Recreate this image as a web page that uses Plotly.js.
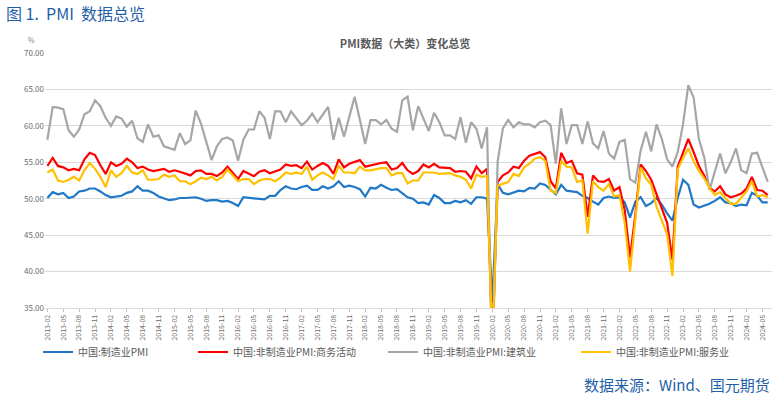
<!DOCTYPE html>
<html><head><meta charset="utf-8">
<script src="https://cdn.plot.ly/plotly-3.0.1.min.js"></script>
<style>html,body{margin:0;padding:0;background:#fff;}#chart{width:783px;height:398px;}</style>
</head><body><div id="chart"></div>
<script>
// Months 2013-02 .. 2024-06
const startYear = 2013, startMonth = 2, nMonths = 137;
const months = [];
for (let k = 0; k < nMonths; k++) {
  const m = startMonth - 1 + k;
  const y = startYear + Math.floor(m / 12);
  const mm = (m % 12) + 1;
  months.push(y + '-' + (mm < 10 ? '0' + mm : mm));
}
const tickLabels = months.filter((d, k) => k % 3 === 0);

const manufacturing = [
  50.1,50.9,50.6,50.8,50.1,50.3,51.0,51.1,51.4,51.4,51.0,
  50.5,50.2,50.3,50.4,50.8,51.0,51.7,51.1,51.1,50.8,50.3,50.1,
  49.8,49.9,50.1,50.1,50.2,50.2,50.0,49.7,49.8,49.8,49.6,49.7,
  49.4,49.0,50.2,50.1,50.1,50.0,49.9,50.4,50.4,51.2,51.7,51.4,
  51.3,51.6,51.8,51.2,51.2,51.7,51.4,51.7,52.4,51.6,51.8,51.6,
  51.3,50.3,51.5,51.4,51.9,51.5,51.2,51.3,50.8,50.2,50.0,49.4,
  49.5,49.2,50.5,50.1,49.4,49.4,49.7,49.5,49.8,49.3,50.2,50.2,
  50.0,35.7,52.0,50.8,50.6,50.9,51.1,51.0,51.5,51.4,52.1,51.9,
  51.3,50.6,51.9,51.1,51.0,50.9,50.4,50.1,49.6,49.2,50.1,50.3,
  50.1,50.2,49.5,47.4,49.6,50.2,49.0,49.4,50.1,49.2,48.0,47.0,
  50.1,52.6,51.9,49.2,48.8,49.0,49.3,49.7,50.2,49.5,49.4,49.0,
  49.2,49.1,50.8,50.4,49.5,49.5
];
const nonManufacturing = [
  54.5,55.6,54.5,54.3,53.9,54.1,53.9,55.4,56.3,56.0,54.6,
  53.4,55.0,54.5,54.8,55.5,55.0,54.2,54.4,54.0,53.8,53.9,54.1,
  53.7,53.9,53.7,53.4,53.2,53.8,53.9,53.4,53.4,53.1,53.6,54.4,
  53.5,52.7,53.8,53.5,53.1,53.7,53.9,53.5,53.7,54.0,54.7,54.5,
  54.6,54.2,55.1,54.0,54.5,54.9,54.5,53.4,55.4,54.3,54.8,55.0,
  55.3,54.4,54.6,54.8,54.9,55.0,54.0,54.2,54.9,53.9,53.4,53.8,
  54.7,54.3,54.8,54.3,54.3,54.2,53.7,53.8,53.7,52.8,54.4,53.5,
  54.1,29.6,52.3,53.2,53.6,54.4,54.2,55.2,55.9,56.2,56.4,55.7,
  52.4,51.4,56.3,54.9,55.2,53.5,53.3,47.5,53.2,52.4,52.3,52.7,
  51.1,51.6,48.4,41.9,47.8,54.7,53.8,52.6,50.6,48.7,46.7,41.6,
  54.4,56.3,58.2,56.4,54.5,53.2,51.5,51.0,51.7,50.6,50.2,50.4,
  50.7,51.4,53.0,51.2,51.1,50.5
];
const construction = [
  58.1,62.6,62.5,62.3,59.4,58.5,59.5,61.6,62.0,63.5,62.7,
  61.1,60.0,61.3,61.0,59.9,60.7,58.3,57.8,60.2,58.5,58.7,57.2,
  57.0,56.7,59.0,57.5,58.0,62.1,60.3,57.8,55.3,57.2,58.2,58.4,
  58.0,55.2,58.1,59.5,59.5,62.0,61.1,58.2,62.0,62.0,60.5,62.0,
  61.1,60.1,60.7,61.7,60.5,61.6,62.6,58.1,61.1,58.5,61.3,64.0,
  60.8,57.5,60.8,60.8,60.2,60.8,59.6,59.2,63.5,64.0,59.4,62.7,
  61.0,59.3,61.8,60.5,58.7,58.7,58.2,61.2,57.7,60.5,59.6,56.9,
  59.8,26.6,55.1,59.7,60.8,59.8,60.5,60.2,60.2,59.8,60.5,60.7,
  60.1,54.8,62.4,57.5,60.1,60.1,57.5,60.6,57.6,56.9,59.3,56.2,
  55.5,57.8,58.1,52.7,52.2,56.6,59.2,56.5,60.2,58.2,55.4,54.4,
  56.4,60.2,65.6,63.9,58.2,55.7,51.2,53.8,56.2,53.5,55.0,56.9,
  53.9,53.5,56.2,56.3,54.4,52.3
];
const services = [
  53.6,54.0,52.5,52.3,52.6,53.0,52.5,53.9,54.9,54.1,53.0,
  51.6,53.9,53.0,53.5,54.5,53.6,53.4,53.9,52.6,52.6,52.7,53.3,
  53.0,53.2,52.4,52.4,52.0,52.4,52.9,52.7,53.0,52.5,53.0,54.0,
  53.2,52.4,52.7,52.7,52.0,52.5,52.7,52.7,52.4,52.9,53.6,53.4,
  53.6,53.4,54.4,52.6,53.2,53.6,53.2,52.7,54.5,53.6,53.6,53.5,
  54.4,53.9,53.9,54.1,54.2,54.2,53.2,53.5,53.5,52.1,52.5,52.5,
  53.6,53.6,53.6,53.4,53.5,53.5,53.2,53.0,52.6,51.4,53.3,53.0,
  53.1,30.1,51.8,52.1,52.3,53.4,53.1,54.3,54.8,55.5,55.7,55.2,
  51.1,50.8,55.2,54.4,54.3,52.3,52.5,45.2,52.4,51.6,51.1,52.0,
  50.3,50.5,46.7,40.0,47.1,54.3,52.8,51.9,48.9,47.0,45.1,39.4,
  54.0,55.6,56.9,55.1,53.8,52.8,51.5,50.5,50.9,50.1,49.3,49.3,
  50.1,51.0,52.4,50.3,50.5,50.2
];

const seriesNames = ['中国:制造业PMI','中国:非制造业PMI:商务活动','中国:非制造业PMI:建筑业','中国:非制造业PMI:服务业'];
const seriesData = [manufacturing, nonManufacturing, construction, services];
const seriesColors = ['#1f78c8','#ff0000','#a6a6a6','#ffc000'];
const legendIds = ['legend','legend2','legend3','legend4'];
const legendX = [38, 193, 383, 576];

const traces = seriesData.map((vals, s) => ({
  type: 'scatter', mode: 'lines', x: months, y: vals, name: seriesNames[s],
  line: {color: seriesColors[s], width: 2.2}, legend: legendIds[s], cliponaxis: true
}));

const font = {family: '"Noto Sans CJK SC", "Microsoft YaHei", sans-serif', color: '#595959'};
const layout = {
  width: 783, height: 398,
  margin: {l: 45, r: 11, t: 53, b: 90},
  paper_bgcolor: '#ffffff', plot_bgcolor: '#ffffff',
  font: font,
  showlegend: true,
  title: {text: '<b>PMI数据（大类）变化总览</b>', font: {size: 11, color: '#595959', family: font.family},
          x: 405/783, xref: 'container', xanchor: 'center', y: 1 - 44/398, yref: 'container', yanchor: 'middle'},
  xaxis: {type: 'category', range: [-0.45, 136.8], tickmode: 'array', tickvals: tickLabels, ticktext: tickLabels,
          tickangle: -90, tickfont: {size: 7, color: '#6b6b6b'}, ticks: 'outside', ticklen: 3, tickcolor: '#bfbfbf',
          showgrid: false, showline: true, linecolor: '#d9d9d9', linewidth: 1, zeroline: false, fixedrange: true},
  yaxis: {range: [35, 70], tickmode: 'linear', tick0: 35, dtick: 5, tickformat: '.2f',
          tickfont: {size: 8, color: '#6b6b6b'}, showgrid: true, gridcolor: '#d9d9d9', gridwidth: 1,
          zeroline: false, showline: false, ticks: '', fixedrange: true},
  annotations: [
    {text: '图 1.  PMI  数据总览', xref: 'paper', yref: 'paper', x: (4-45)/727, y: (308-13)/255,
     xanchor: 'left', yanchor: 'middle', showarrow: false, font: {size: 16, color: '#1f5fa8', family: font.family}},
    {text: '%', xref: 'paper', yref: 'paper', x: (31-45)/727, y: (308-40)/255,
     xanchor: 'center', yanchor: 'middle', showarrow: false, font: {size: 7, color: '#7f7f7f'}},
    {text: '数据来源：Wind、国元期货', xref: 'paper', yref: 'paper', x: (772-45)/727, y: (308-384)/255,
     xanchor: 'right', yanchor: 'middle', showarrow: false, font: {size: 15, color: '#1f5fa8', family: font.family}}
  ]
};
legendIds.forEach((id, s) => {
  layout[id] = {orientation: 'h', xref: 'container', yref: 'container', x: legendX[s]/783, y: 1 - 352/398,
    xanchor: 'left', yanchor: 'middle', bgcolor: 'rgba(0,0,0,0)', font: {size: 10, color: '#595959', family: font.family}};
});
Plotly.newPlot('chart', traces, layout, {displayModeBar: false, staticPlot: true});
</script>
</body></html>
